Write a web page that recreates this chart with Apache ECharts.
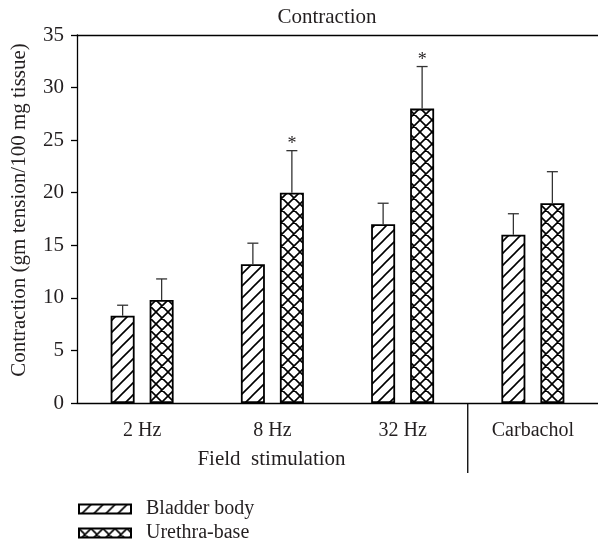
<!DOCTYPE html>
<html>
<head>
<meta charset="utf-8">
<script src="https://cdn.jsdelivr.net/npm/echarts@6/dist/echarts.min.js"></script>
<style>
html,body{margin:0;padding:0;background:#fff;}
#chart{width:598px;height:546px;}
</style>
</head>
<body>
<div id="chart"></div>
<script>
// ---- data ----
var categories = ['2 Hz', '8 Hz', '32 Hz', 'Carbachol'];
var seriesNames = ['Bladder body', 'Urethra-base'];
var bladderMean = [8.3, 13.2, 17.0, 16.0];
var bladderErr = [1.0, 2.0, 2.0, 2.0];
var urethraMean = [9.8, 20.0, 28.0, 19.0];
var urethraErr = [2.0, 4.0, 4.0, 3.0];
var urethraSig = [0, 1, 1, 0];
var bladderSig = [0, 0, 0, 0];
var yTicks = { min: 0, max: 35, interval: 5 };

// ---- patterns ----
function makePattern(cross) {
  var s = 12;
  var c = document.createElement('canvas');
  c.width = s; c.height = s;
  var g = c.getContext('2d');
  g.fillStyle = '#fff';
  g.fillRect(0, 0, s, s);
  g.strokeStyle = '#000';
  g.lineWidth = 1.6;
  g.beginPath();
  g.moveTo(-2, s + 2); g.lineTo(s + 2, -2);
  g.moveTo(-2, 2); g.lineTo(2, -2);
  g.moveTo(s - 2, s + 2); g.lineTo(s + 2, s - 2);
  if (cross) {
    g.moveTo(-2, -2); g.lineTo(s + 2, s + 2);
    g.moveTo(-2, s - 2); g.lineTo(2, s + 2);
    g.moveTo(s - 2, -2); g.lineTo(s + 2, 2);
  }
  g.stroke();
  return { image: c, repeat: 'repeat' };
}
var hatch = makePattern(false);
var crossHatch = makePattern(true);

var FONT = "'Liberation Serif', 'DejaVu Serif', serif";
var TXT = '#231f20';
var BAR_W = 24;
var HALF = 19.5;

function errData(means, errs, sig) {
  return means.map(function (m, i) { return [i, m, errs[i], sig[i]]; });
}

function errRender(offset) {
  return function (params, api) {
    var i = api.value(0), m = api.value(1), e = api.value(2), s = api.value(3);
    var b = api.coord([i, m]);
    var t = api.coord([i, m + e]);
    var x = b[0] + offset;
    var children = [
      { type: 'line', shape: { x1: x, y1: b[1], x2: x, y2: t[1] }, style: { stroke: '#333', lineWidth: 1.3 } },
      { type: 'line', shape: { x1: x - 5.5, y1: t[1], x2: x + 5.5, y2: t[1] }, style: { stroke: '#333', lineWidth: 1.3 } }
    ];
    if (s) {
      children.push({ type: 'text', style: { text: '*', x: x, y: t[1] - 6, textAlign: 'center', textVerticalAlign: 'middle', fill: TXT, font: '18px ' + FONT } });
    }
    return { type: 'group', children: children };
  };
}

var chart = echarts.init(document.getElementById('chart'), null, { renderer: 'canvas' });
var option = {
  animation: false,
  backgroundColor: '#fff',
  textStyle: { fontFamily: FONT, color: TXT },
  title: {
    text: 'Contraction', left: 322, top: 2, textAlign: 'center',
    textStyle: { fontFamily: FONT, fontSize: 21, fontWeight: 'normal', color: TXT }
  },
  legend: {
    orient: 'vertical', left: 78, top: 499, padding: 0, itemWidth: 52, itemHeight: 9, itemGap: 4,
    icon: 'rect',
    data: seriesNames,
    textStyle: { fontFamily: FONT, fontSize: 20, lineHeight: 20, color: TXT, padding: [0, 0, 0, 10] }
  },
  grid: { left: 77, top: 35, width: 524, height: 368 },
  xAxis: [{
    type: 'category', data: categories,
    axisLine: { lineStyle: { color: '#000', width: 1.3 } },
    axisTick: { alignWithLabel: true, length: 6, lineStyle: { color: '#000', width: 1.3 } },
    axisLabel: { fontFamily: FONT, fontSize: 20, color: TXT, margin: 18 },
    splitLine: { show: false }
  }, {
    type: 'category', data: categories, position: 'top',
    axisLine: { lineStyle: { color: '#000', width: 1.3 } },
    axisTick: { show: false }, axisLabel: { show: false }, splitLine: { show: false }
  }],
  yAxis: {
    type: 'value', min: yTicks.min, max: yTicks.max, interval: yTicks.interval,
    name: 'Contraction (gm tension/100 mg tissue)', nameLocation: 'middle', nameGap: 47,
    nameTextStyle: { fontFamily: FONT, fontSize: 21, color: TXT, padding: [0, 0, 0, 18] },
    axisLine: { show: true, lineStyle: { color: '#000', width: 1.3 } },
    axisTick: { show: true, length: 6, lineStyle: { color: '#000', width: 1.3 } },
    axisLabel: { fontFamily: FONT, fontSize: 21, color: TXT, margin: 13 },
    splitLine: { show: false }
  },
  series: [{
    name: seriesNames[0], type: 'bar', data: bladderMean, barWidth: BAR_W, barGap: '62.5%',
    itemStyle: { color: hatch, borderColor: '#000', borderWidth: 1.8 }
  }, {
    name: seriesNames[1], type: 'bar', data: urethraMean, barWidth: BAR_W, barGap: '62.5%',
    itemStyle: { color: crossHatch, borderColor: '#000', borderWidth: 1.8 }
  }, {
    type: 'custom', renderItem: errRender(-HALF), data: errData(bladderMean, bladderErr, bladderSig),
    encode: { x: 0, y: 1 }, z: 5, silent: true
  }, {
    type: 'custom', renderItem: errRender(HALF), data: errData(urethraMean, urethraErr, urethraSig),
    encode: { x: 0, y: 1 }, z: 5, silent: true
  }]
};
chart.setOption(option);

// divider between field stimulation and carbachol, and group label
var p2 = chart.convertToPixel({ xAxisIndex: 0 }, 2);
var p3 = chart.convertToPixel({ xAxisIndex: 0 }, 3);
var p1 = chart.convertToPixel({ xAxisIndex: 0 }, 1);
var y0 = chart.convertToPixel({ yAxisIndex: 0 }, 0);
var divX = (p2 + p3) / 2;
chart.setOption({
  graphic: [{
    type: 'line', shape: { x1: divX, y1: y0, x2: divX, y2: y0 + 70 },
    style: { stroke: '#000', lineWidth: 1.3 }
  }, {
    type: 'text', left: p1 - 75, top: y0 + 46,
    style: { text: 'Field  stimulation', fill: TXT, font: '21px ' + FONT }
  }]
});
</script>
</body>
</html>
